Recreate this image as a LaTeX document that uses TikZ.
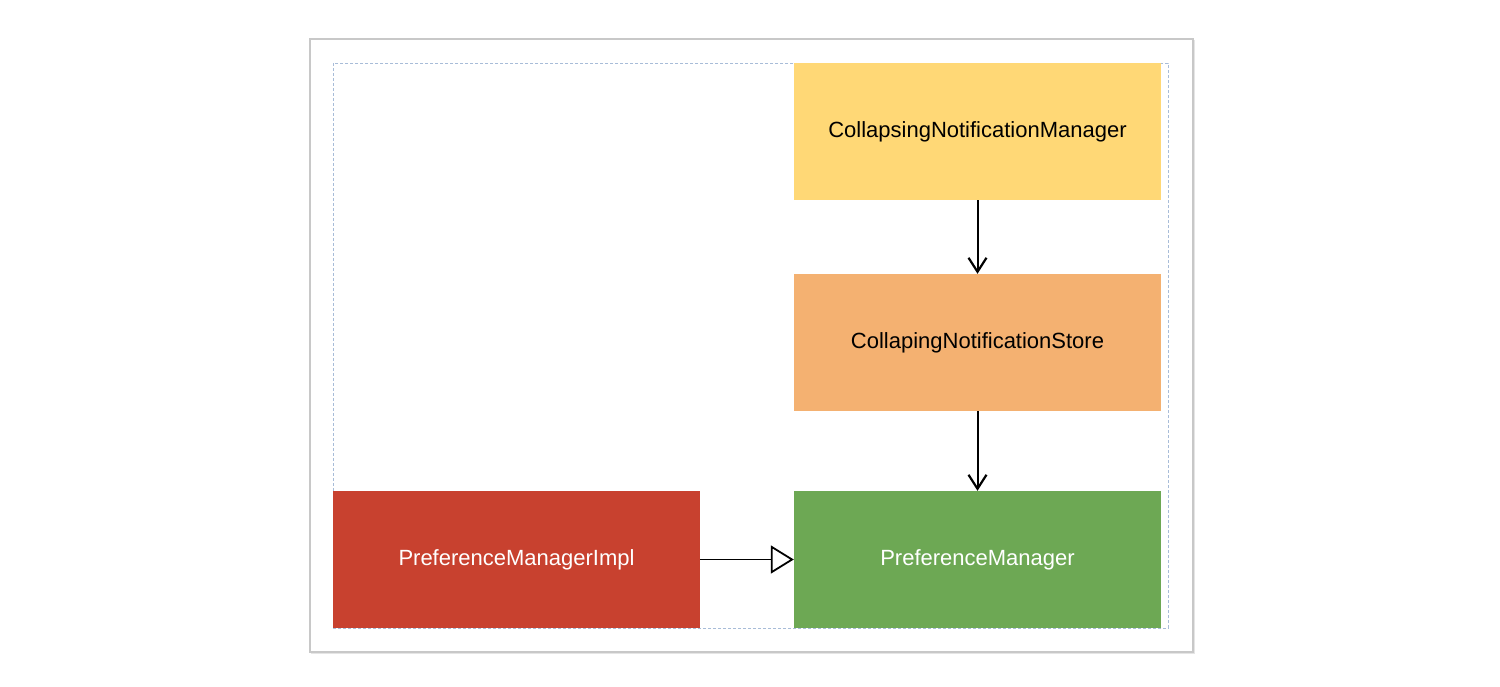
\documentclass[tikz,border=0pt]{standalone}
\usepackage{fontspec}
\setmainfont{Liberation Sans}
\usetikzlibrary{arrows.meta}
\definecolor{cyel}{HTML}{FFD876}
\definecolor{corg}{HTML}{F4B171}
\definecolor{cgrn}{HTML}{6DA854}
\definecolor{cred}{HTML}{C8412F}
\definecolor{cframe}{HTML}{C8C8C8}
\definecolor{cdash}{HTML}{A8BCD8}
\tikzset{
  cls/.style={draw=none, minimum width=367pt, minimum height=137pt, inner sep=0pt, font=\fontsize{22}{26}\selectfont},
  dep/.style={draw=black, line width=2pt, -{Straight Barb[length=14pt,width=18pt,line width=2.2pt]}},
  inh/.style={draw=black, line width=1.6pt, -{Triangle[open,length=23pt,width=28pt,line width=1.8pt,fill=white]}},
}
\begin{document}
\begin{tikzpicture}[x=1pt,y=-1pt]
\useasboundingbox (0,0) rectangle (1500,686);
\fill[white] (0,0) rectangle (1500,686);
\fill[black!10] (311,40) rectangle (1195,654);
\draw[cframe, line width=1.2pt, fill=white] (310,39) rectangle (1193,652);
\draw[cdash, line width=1pt, dash pattern=on 3pt off 2pt] (333,63) rectangle (1168,628);
\node[cls, fill=cyel] (cnm) at (977.5,131.5) {\raisebox{-1pt}{CollapsingNotificationManager}};
\node[cls, fill=corg] (cns) at (977.5,342.5) {\raisebox{-1pt}{CollapingNotificationStore}};
\node[cls, fill=cgrn, text=white] (pm) at (977.5,559.5) {\raisebox{-1pt}{PreferenceManager}};
\node[cls, fill=cred, text=white] (pmi) at (516.5,559.5) {\raisebox{-1pt}{PreferenceManagerImpl}};
\draw[dep] (cnm) -- (cns);
\draw[dep] (cns) -- (pm);
\draw[inh] (pmi) -- (pm);
\end{tikzpicture}
\end{document}
